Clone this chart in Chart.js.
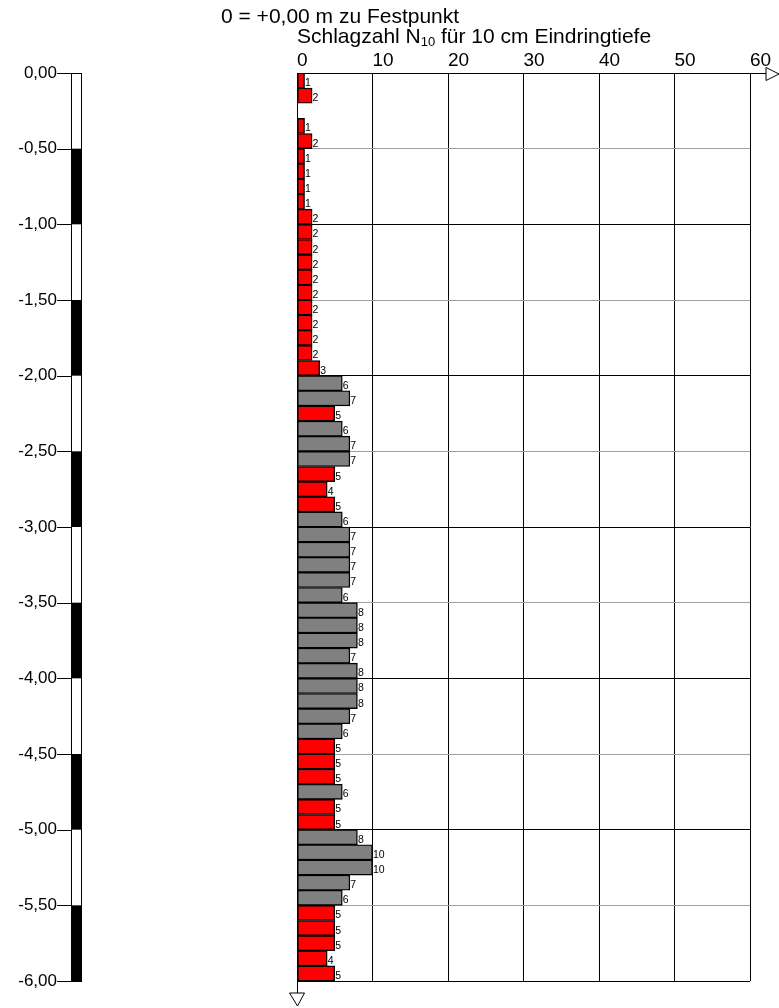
<!DOCTYPE html>
<html><head><meta charset="utf-8">
<script src="https://cdn.jsdelivr.net/npm/chart.js@4/dist/chart.umd.min.js"></script>
<style>html,body{margin:0;padding:0;background:#fff}canvas{display:block}</style>
</head><body>
<canvas id="c" width="779" height="1008"></canvas>
<script>
// ---- data ----
const titleLine = '0 = +0,00 m zu Festpunkt';
const axisTitle = ['Schlagzahl N', '10', ' für 10 cm Eindringtiefe'];
// top of each 10 cm interval (m below Festpunkt)
const depthFrom = [
  0.0,0.1,0.2,0.3,0.4,0.5,0.6,0.7,0.8,0.9,
  1.0,1.1,1.2,1.3,1.4,1.5,1.6,1.7,1.8,1.9,
  2.0,2.1,2.2,2.3,2.4,2.5,2.6,2.7,2.8,2.9,
  3.0,3.1,3.2,3.3,3.4,3.5,3.6,3.7,3.8,3.9,
  4.0,4.1,4.2,4.3,4.4,4.5,4.6,4.7,4.8,4.9,
  5.0,5.1,5.2,5.3,5.4,5.5,5.6,5.7,5.8,5.9
];
const blowCounts = [
  1,2,null,1,2,1,1,1,1,2,
  2,2,2,2,2,2,2,2,2,3,
  6,7,5,6,7,7,5,4,5,6,
  7,7,7,7,6,8,8,8,7,8,
  8,8,7,6,5,5,5,6,5,5,
  8,10,10,7,6,5,5,5,4,5
];
const depthTicks = [0,-0.5,-1,-1.5,-2,-2.5,-3,-3.5,-4,-4.5,-5,-5.5,-6];
const countTicks = [0,10,20,30,40,50,60];
const softLimit = 5;

// ---- styles ----
const FONT = "'Liberation Sans', Arial, Helvetica, sans-serif";
const RED = '#ff0000', GREY = '#808080';

const points = depthFrom.map((d, i) => ({ x: blowCounts[i], y: -(d + 0.05) }));

const decor = {
  id: 'decor',
  afterDatasetsDraw(chart) {
    const ctx = chart.ctx;
    const meta = chart.getDatasetMeta(0);
    ctx.save();
    ctx.font = '10.5px ' + FONT;
    ctx.fillStyle = '#000';
    ctx.textAlign = 'left';
    ctx.textBaseline = 'alphabetic';
    meta.data.forEach((bar, i) => {
      const v = blowCounts[i];
      if (v == null) return;
      const p = bar.getProps(['x', 'y'], true);
      ctx.fillText(String(v), p.x + 0.5, p.y + 5.5);
    });
    ctx.restore();
  },
  afterDraw(chart) {
    const ctx = chart.ctx;
    const ys = chart.scales.y, xs = chart.scales.x;
    const area = chart.chartArea;
    ctx.save();
    // titles
    ctx.fillStyle = '#000';
    ctx.textAlign = 'left';
    ctx.textBaseline = 'alphabetic';
    ctx.font = '21px ' + FONT;
    ctx.fillText(titleLine, 221, 23);
    let tx = xs.getPixelForValue(0);
    ctx.fillText(axisTitle[0], tx, 43);
    tx += ctx.measureText(axisTitle[0]).width;
    ctx.font = '13px ' + FONT;
    ctx.fillText(axisTitle[1], tx, 46);
    tx += ctx.measureText(axisTitle[1]).width;
    ctx.font = '21px ' + FONT;
    ctx.fillText(axisTitle[2], tx, 43);

    // depth strip + ticks
    ctx.strokeStyle = '#000';
    ctx.lineWidth = 1;
    const sx0 = 71.5, sx1 = 81.5;
    for (let i = 0; i < depthTicks.length - 1; i++) {
      const a = ys.getPixelForValue(depthTicks[i]);
      const b = ys.getPixelForValue(depthTicks[i + 1]);
      if (i % 2 === 1) { ctx.fillStyle = '#000'; ctx.fillRect(sx0, a, sx1 - sx0, b - a); }
    }
    const top = ys.getPixelForValue(depthTicks[0]);
    const bot = ys.getPixelForValue(depthTicks[depthTicks.length - 1]);
    ctx.strokeRect(sx0, Math.round(top) + 0.5, sx1 - sx0, Math.round(bot) - Math.round(top));
    depthTicks.forEach(v => {
      const y = Math.round(ys.getPixelForValue(v)) + 0.5;
      ctx.beginPath(); ctx.moveTo(57, y); ctx.lineTo(sx0, y); ctx.stroke();
    });

    // arrows
    const ay = Math.round(area.top) + 0.5;
    ctx.beginPath(); ctx.moveTo(area.right, ay); ctx.lineTo(766, ay); ctx.stroke();
    ctx.beginPath(); ctx.moveTo(766, 67.5); ctx.lineTo(766, 80.5); ctx.lineTo(779, 74); ctx.closePath();
    ctx.fillStyle = '#fff'; ctx.fill(); ctx.stroke();
    const ax = Math.round(xs.getPixelForValue(0)) + 0.5;
    ctx.beginPath(); ctx.moveTo(ax, area.bottom); ctx.lineTo(ax, 993); ctx.stroke();
    ctx.beginPath(); ctx.moveTo(289.5, 993); ctx.lineTo(304.5, 993); ctx.lineTo(ax, 1006); ctx.closePath();
    ctx.fillStyle = '#fff'; ctx.fill(); ctx.stroke();
    ctx.restore();
  }
};

new Chart(document.getElementById('c'), {
  type: 'bar',
  data: {
    datasets: [{
      data: points,
      backgroundColor: points.map(p => (p.x != null && p.x <= softLimit) ? RED : GREY),
      borderColor: '#000',
      borderWidth: 1.4,
      borderSkipped: false,
      barPercentage: 1,
      categoryPercentage: 1
    }]
  },
  options: {
    indexAxis: 'y',
    responsive: false,
    animation: false,
    devicePixelRatio: 1,
    layout: { padding: { left: 0, top: 0, right: 29, bottom: 27 } },
    plugins: { legend: { display: false }, tooltip: { enabled: false } },
    scales: {
      x: {
        type: 'linear', position: 'top', min: 0, max: 60, offset: false,
        afterBuildTicks: s => { s.ticks = countTicks.map(v => ({ value: v })); },
        afterFit: s => { s.height = 73; s.paddingLeft = 0; s.paddingRight = 0; },
        grid: { color: '#000', lineWidth: 1, drawTicks: false, offset: false },
        border: { display: true, color: '#000', width: 1 },
        ticks: { align: 'start', padding: 1, color: '#000', font: { family: FONT, size: 19 } }
      },
      y: {
        type: 'linear', position: 'left', min: -6, max: 0, offset: false,
        afterBuildTicks: s => { s.ticks = depthTicks.map(v => ({ value: v })); },
        afterFit: s => { s.width = 297; s.paddingTop = 0; s.paddingBottom = 0; },
        grid: {
          offset: false,
          color: c => Number.isInteger(c.tick && c.tick.value) ? '#000' : '#a0a0a0',
          lineWidth: 1, drawTicks: false
        },
        border: { display: true, color: '#000', width: 1 },
        ticks: {
          autoSkip: false, padding: 240, color: '#000', font: { family: FONT, size: 17 },
          callback: v => v.toFixed(2).replace('.', ',')
        }
      }
    }
  },
  plugins: [decor]
});
</script>
</body></html>
